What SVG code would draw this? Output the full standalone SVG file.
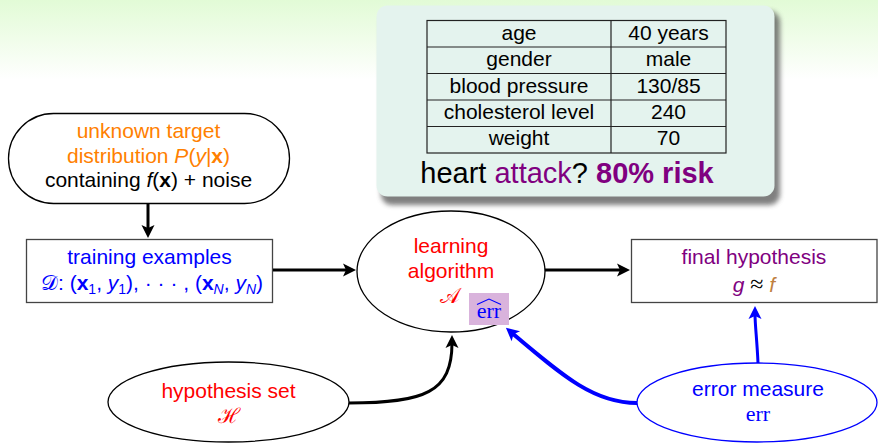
<svg xmlns="http://www.w3.org/2000/svg" width="878" height="444" viewBox="0 0 878 444">
<defs>
<linearGradient id="bg" x1="0" y1="0" x2="0" y2="1">
<stop offset="0" stop-color="#e2fbd6"/>
<stop offset="1" stop-color="#ffffff"/>
</linearGradient>
<filter id="shadow" x="-10%" y="-10%" width="130%" height="130%">
<feGaussianBlur stdDeviation="2.5"/>
</filter>
<marker id="ah" viewBox="-6 -8 16 16" refX="0" refY="0" markerWidth="16" markerHeight="16" markerUnits="userSpaceOnUse" orient="auto">
<path d="M8,0 L-5,-6.5 L-2,0 L-5,6.5 Z" fill="#000"/>
</marker>
<marker id="ahb" viewBox="-6 -8 16 16" refX="0" refY="0" markerWidth="16" markerHeight="16" markerUnits="userSpaceOnUse" orient="auto">
<path d="M8,0 L-5,-6.5 L-2,0 L-5,6.5 Z" fill="#0000ff"/>
</marker>
<style>
text{font-family:"Liberation Sans",Arial,sans-serif;font-size:21px;text-anchor:middle}
.serif{font-family:"Liberation Serif","Times New Roman",serif}
.cal{font-family:"DejaVu Serif","Liberation Serif",serif;font-style:normal}
.it{font-style:italic}
.bf{font-weight:bold}
.orange{fill:#ff8000}
.red{fill:#ff0000}
.blue{fill:#0000ff}
.purple{fill:#800080}
.brown{fill:#bf8040}
.node{fill:#fff;stroke:#000;stroke-width:1.3}
.box{fill:#fff;stroke:#444;stroke-width:1.3}
.tbl{stroke:#222;stroke-width:1.2;fill:none}
.conn{fill:none;stroke:#000;stroke-width:3}
.bconn{fill:none;stroke:#0000ff}
</style>
</defs>

<rect x="0" y="0" width="878" height="80" fill="url(#bg)"/>

<g id="card">
<rect x="381" y="11" width="399" height="194" rx="11" fill="#555" opacity="0.75" filter="url(#shadow)"/>
<rect x="376.5" y="5.5" width="398" height="191" rx="11" fill="#e4f3ee"/>
<rect x="427" y="20.5" width="299" height="132.5" fill="none" stroke="#222" stroke-width="1.2"/>
<path class="tbl" d="M611,20.5 V153 M427,47 H726 M427,73.5 H726 M427,100 H726 M427,126.5 H726"/>
<text x="519" y="40">age</text><text x="668.5" y="40">40 years</text>
<text x="519" y="66">gender</text><text x="668.5" y="66">male</text>
<text x="519" y="92.5">blood pressure</text><text x="668.5" y="92.5">130/85</text>
<text x="519" y="118.5">cholesterol level</text><text x="668.5" y="118.5">240</text>
<text x="519" y="145">weight</text><text x="668.5" y="145">70</text>
<text x="567" y="183" style="font-size:29px">heart <tspan class="purple">attack</tspan>? <tspan class="purple bf">80% risk</tspan></text>
</g>

<g id="target">
<rect x="8.5" y="113.5" width="281" height="90" rx="45" class="node"/>
<text x="148.5" y="138" class="orange">unknown target</text>
<text x="148.5" y="163" class="orange">distribution <tspan class="it">P</tspan>(<tspan class="it">y</tspan>|<tspan class="bf">x</tspan>)</text>
<text x="148.5" y="187">containing <tspan class="it">f</tspan>(<tspan class="bf">x</tspan>) + noise</text>
</g>

<g id="training">
<rect x="26.5" y="239.5" width="246" height="63" class="box"/>
<text x="149.5" y="264" class="blue">training examples</text>
<text x="152" y="290" class="blue"><tspan class="cal">𝒟</tspan>: (<tspan class="bf">x</tspan><tspan dy="4" style="font-size:14px">1</tspan><tspan dy="-4">, </tspan><tspan class="it">y</tspan><tspan dy="4" style="font-size:14px">1</tspan><tspan dy="-4">), · · · , (</tspan><tspan class="bf">x</tspan><tspan dy="4" class="it" style="font-size:14px">N</tspan><tspan dy="-4">, </tspan><tspan class="it">y</tspan><tspan dy="4" class="it" style="font-size:14px">N</tspan><tspan dy="-4">)</tspan></text>
</g>

<g id="learning">
<ellipse cx="451" cy="271.5" rx="94" ry="60.5" class="node"/>
<text x="451" y="253" class="red">learning</text>
<text x="451" y="278" class="red">algorithm</text>
<text x="450" y="303" class="red cal">𝒜</text>
<rect x="469" y="293" width="40" height="32" fill="#d9b3dc"/>
<path d="M477,304.5 L489,299 L501,304.5" fill="none" stroke="#0000ff" stroke-width="1.1"/>
<text x="489" y="318" class="serif blue" style="font-size:22px">err</text>
</g>

<g id="final">
<rect x="631.5" y="239.5" width="245.5" height="63" class="box"/>
<text x="754" y="264" class="purple">final hypothesis</text>
<text x="754" y="292"><tspan class="it purple">g</tspan> <tspan style="font-family:'Liberation Serif',serif;font-size:24px">≈</tspan> <tspan class="it brown">f</tspan></text>
</g>

<g id="hypothesis">
<ellipse cx="228.5" cy="402" rx="120.5" ry="40" class="node"/>
<text x="228.5" y="398" class="red">hypothesis set</text>
<text x="228.5" y="423" class="red cal">ℋ</text>
</g>

<g id="error">
<ellipse cx="757" cy="402.5" rx="120" ry="39.5" fill="#fff" stroke="#0000ff" stroke-width="1.3"/>
<text x="758" y="396" class="blue">error measure</text>
<text x="758" y="421" class="serif blue" style="font-size:22px">err</text>
</g>

<g id="connectors">
<path class="conn" d="M148,204 V230" marker-end="url(#ah)"/>
<path class="conn" d="M273,270 H348" marker-end="url(#ah)"/>
<path class="conn" d="M545,270 H622" marker-end="url(#ah)"/>
<path class="conn" d="M349,403 C425,403 452,392 452,343" marker-end="url(#ah)"/>
<path class="bconn" stroke-width="4" d="M637,403 C595,403 565,378 512,333" marker-end="url(#ahb)"/>
<path class="bconn" stroke-width="3" d="M758,363 C757,340 755,325 755,314" marker-end="url(#ahb)"/>
</g>
</svg>
